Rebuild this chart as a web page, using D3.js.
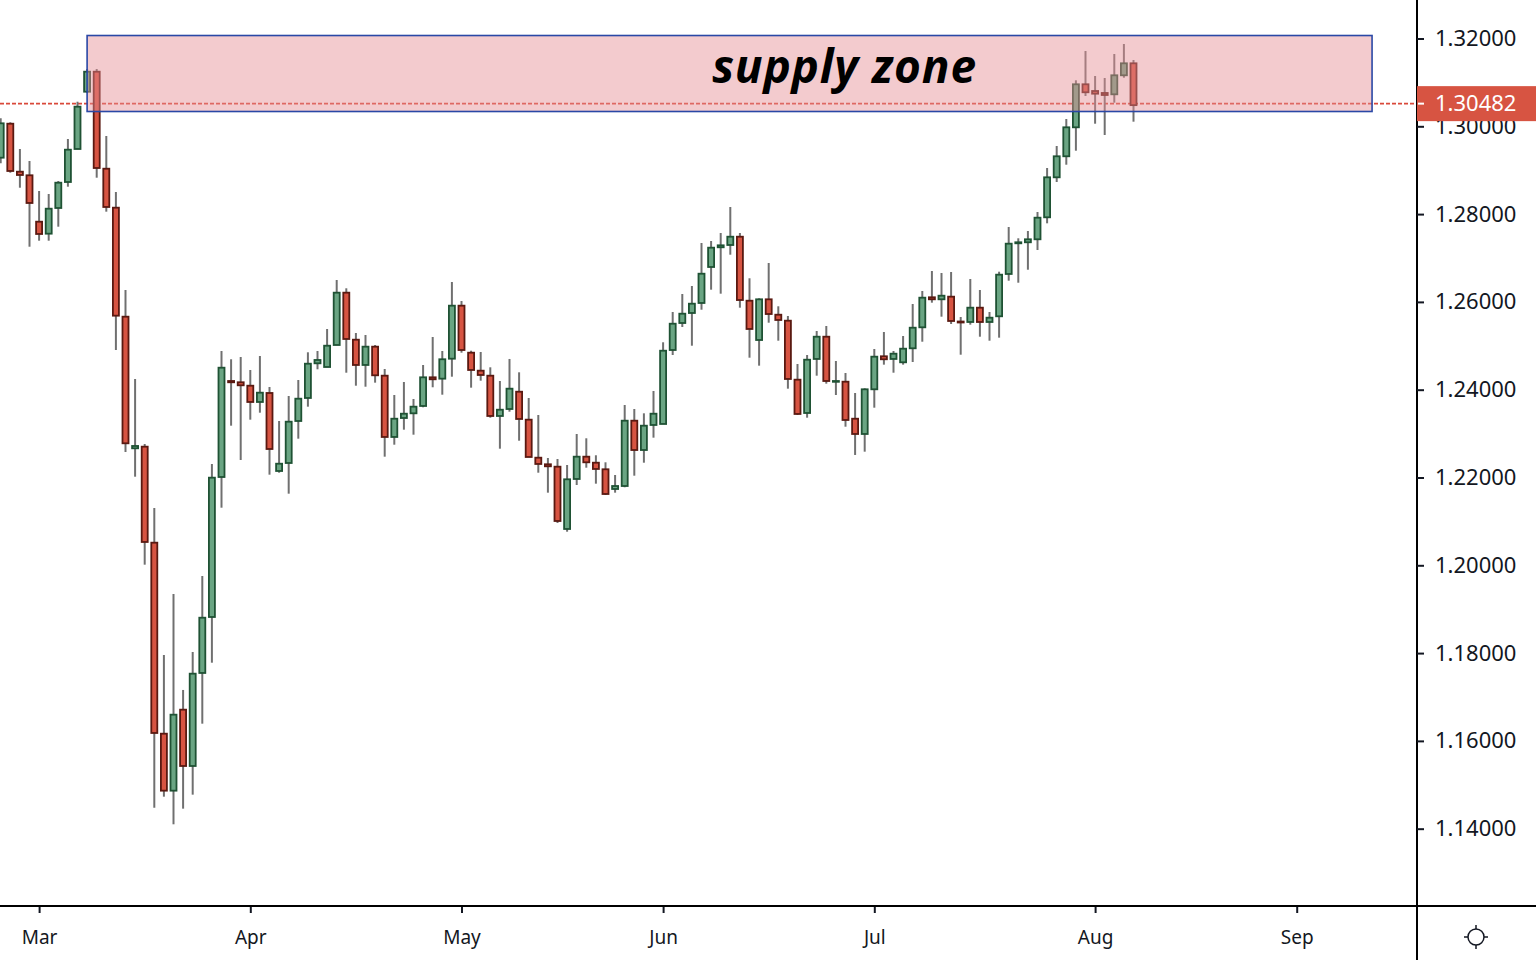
<!DOCTYPE html>
<html>
<head>
<meta charset="utf-8">
<script src="https://cdn.jsdelivr.net/npm/d3@7"></script>
<style>
  html, body { margin: 0; padding: 0; background: #fff; }
  svg { display: block; }
</style>
</head>
<body>
<div id="chart"></div>
<script>
// daily candles, one per weekday starting at firstDay
const firstDay = "2020-02-25";

const opens = [1.29285,1.30059,1.28966,1.28884,1.27827,1.27554,1.28139,1.28731,1.29483,1.30788,
  1.31244,1.29034,1.28146,1.25663,1.22665,1.22702,1.20515,1.16164,1.14866,1.16711,
  1.15428,1.17547,1.18822,1.22011,1.24198,1.24169,1.24091,1.23720,1.23925,1.22148,
  1.22330,1.23287,1.23811,1.24601,1.24517,1.25018,1.26210,1.25139,1.24563,1.24980,
  1.24319,1.22923,1.23355,1.23462,1.23629,1.24282,1.24251,1.24706,1.25914,1.24843,
  1.24433,1.24319,1.23401,1.23560,1.23954,1.23317,1.22451,1.22301,1.22246,1.20827,
  1.21966,1.22474,1.22337,1.22187,1.21738,1.21806,1.23294,1.22626,1.23196,1.23219,
  1.24904,1.25519,1.25747,1.25975,1.26795,1.27244,1.27296,1.27485,1.26027,1.25132,
  1.26059,1.25708,1.25572,1.24228,1.23469,1.24700,1.25207,1.24182,1.24182,1.23339,
  1.22991,1.24009,1.24761,1.24700,1.24624,1.24943,1.25421,1.26105,1.26059,1.26119,
  1.25553,1.25542,1.25868,1.25542,1.25672,1.26636,1.27335,1.27358,1.27426,1.27927,
  1.28838,1.29317,1.29977,1.30957,1.30804,1.30759,1.30729,1.31162,1.31435];

const highs = [1.30182,1.30091,1.29483,1.29210,1.28526,1.28458,1.28754,1.29711,1.30560,1.31305,
  1.31305,1.29779,1.28503,1.26271,1.24244,1.22763,1.21305,1.17957,1.19346,1.17160,
  1.18025,1.19756,1.22308,1.24882,1.24693,1.24745,1.24449,1.24768,1.24062,1.23287,
  1.23857,1.24221,1.24852,1.24882,1.25383,1.26499,1.26310,1.25292,1.25246,1.25018,
  1.24472,1.23879,1.24175,1.23788,1.24563,1.25201,1.24882,1.26453,1.26021,1.24888,
  1.24859,1.24510,1.24198,1.24700,1.24396,1.23811,1.23424,1.22444,1.22421,1.22285,
  1.22991,1.22893,1.22506,1.22346,1.22057,1.23652,1.23560,1.23462,1.23970,1.25080,
  1.25770,1.26180,1.26362,1.27342,1.27387,1.27570,1.28162,1.27570,1.26538,1.26082,
  1.26886,1.25900,1.25679,1.24585,1.24790,1.25337,1.25451,1.24654,1.24380,1.23925,
  1.24032,1.24927,1.25314,1.24882,1.25223,1.25952,1.26248,1.26704,1.26658,1.26681,
  1.25656,1.26522,1.26271,1.25770,1.26688,1.27706,1.27449,1.27615,1.28048,1.29050,
  1.29551,1.30166,1.31048,1.31715,1.31146,1.31100,1.31647,1.31875,1.31510];

const lows = [1.29157,1.28943,1.28601,1.27257,1.27394,1.27394,1.27713,1.28624,1.29483,1.30759,
  1.28829,1.28055,1.24904,1.22581,1.22018,1.20014,1.14478,1.14729,1.14100,1.14456,
  1.14775,1.16392,1.17781,1.21312,1.23180,1.22399,1.23317,1.23476,1.22064,1.22109,
  1.21631,1.22884,1.23613,1.24465,1.24517,1.25018,1.24387,1.24091,1.24068,1.24160,
  1.22474,1.22747,1.23089,1.22975,1.23599,1.24055,1.23886,1.24296,1.24843,1.24046,
  1.24205,1.23362,1.22656,1.23499,1.22838,1.22467,1.22109,1.21654,1.20964,1.20765,
  1.21829,1.22223,1.21859,1.21601,1.21654,1.21777,1.22041,1.22337,1.22907,1.23219,
  1.24790,1.25428,1.25002,1.25822,1.26278,1.26187,1.27075,1.25868,1.24729,1.24547,
  1.25526,1.25116,1.24023,1.23424,1.23362,1.24319,1.24137,1.23879,1.23157,1.22513,
  1.22588,1.23590,1.24570,1.24387,1.24570,1.24631,1.25093,1.25982,1.25663,1.25497,
  1.24797,1.25481,1.25207,1.25116,1.25185,1.26483,1.26437,1.26733,1.27182,1.27790,
  1.28731,1.29125,1.29444,1.30690,1.30059,1.29802,1.30538,1.31107,1.30105];

const closes = [1.30068,1.28982,1.28891,1.28253,1.27547,1.28123,1.28715,1.29467,1.30447,1.31244,
  1.29050,1.28162,1.25686,1.22779,1.22718,1.20531,1.16180,1.14866,1.16597,1.15428,
  1.17531,1.18806,1.21996,1.24501,1.24169,1.24100,1.23720,1.23932,1.22649,1.22314,
  1.23271,1.23795,1.24592,1.24677,1.25002,1.26210,1.25155,1.24563,1.24980,1.24328,
  1.22923,1.23339,1.23453,1.23613,1.24282,1.24237,1.24693,1.25914,1.24904,1.24449,
  1.24335,1.23401,1.23544,1.24023,1.23333,1.22467,1.22308,1.22255,1.21009,1.21959,
  1.22474,1.22346,1.22194,1.21624,1.21806,1.23294,1.22626,1.23180,1.23453,1.24888,
  1.25503,1.25731,1.25959,1.26642,1.27235,1.27289,1.27485,1.26043,1.25383,1.26059,
  1.25724,1.25588,1.24244,1.23447,1.24683,1.25207,1.24198,1.24198,1.23310,1.22991,
  1.24009,1.24752,1.24693,1.24820,1.24934,1.25412,1.26096,1.26059,1.26141,1.25565,
  1.25531,1.25868,1.25542,1.25640,1.26620,1.27326,1.27358,1.27426,1.27918,1.28838,
  1.29317,1.29977,1.30957,1.30775,1.30743,1.30713,1.31162,1.31435,1.30482];

const priceTicks = [1.14, 1.16, 1.18, 1.20, 1.22, 1.24, 1.26, 1.28, 1.30, 1.32];
const monthTicks = ["Mar", "Apr", "May", "Jun", "Jul", "Aug", "Sep"];

// supply zone: from bar index to bar index, price bottom/top
const zoneBars = [9, 142.85];
const zonePrices = [1.30337, 1.32068];
const zoneLabel = "supply zone";
const lastPrice = 1.30482;

const W = 1536, H = 960;
const plotW = 1416, plotH = 907;

const parse = d3.timeParse("%Y-%m-%d");
const fmtMonth = d3.timeFormat("%b");
const start = parse(firstDay);
const days = d3.timeDay.range(start, d3.timeDay.offset(start, 240))
  .filter(d => d.getDay() !== 0 && d.getDay() !== 6);

const candles = opens.map((o, i) => ({ i: i, o: o, h: highs[i], l: lows[i], c: closes[i] }));

const x = d3.scaleLinear().domain([-0.073, 147.427]).range([0, plotW]);
const y = d3.scaleLinear().domain([1.12216, 1.32877]).range([plotH, 0]);

const svg = d3.select("#chart").append("svg")
  .attr("width", W).attr("height", H)
  .style("font-family", "'Noto Sans', sans-serif");

const plot = svg.append("g").attr("class", "plot");

// last price dashed line
plot.append("line")
  .attr("x1", 0).attr("x2", plotW)
  .attr("y1", y(lastPrice) - 1.5).attr("y2", y(lastPrice) - 1.5)
  .attr("stroke", "#d9493a").attr("stroke-width", 1.8)
  .attr("stroke-dasharray", "4 2");

// wicks
plot.append("g").selectAll("line").data(candles).join("line")
  .attr("x1", d => x(d.i)).attr("x2", d => x(d.i))
  .attr("y1", d => y(d.h)).attr("y2", d => y(d.l))
  .attr("stroke", "#707070").attr("stroke-width", 2);

// bodies
const bodyW = 6;
plot.append("g").selectAll("rect").data(candles).join("rect")
  .attr("x", d => x(d.i) - bodyW / 2)
  .attr("y", d => y(Math.max(d.o, d.c)))
  .attr("width", bodyW)
  .attr("height", d => Math.max(Math.abs(y(d.o) - y(d.c)), 0.8))
  .attr("fill", d => d.c >= d.o ? "#6aa583" : "#d75442")
  .attr("stroke", d => d.c >= d.o ? "#1f5234" : "#5a1911")
  .attr("stroke-width", 1.8);

// supply zone
plot.append("rect")
  .attr("x", x(zoneBars[0]))
  .attr("y", y(zonePrices[1]))
  .attr("width", x(zoneBars[1]) - x(zoneBars[0]))
  .attr("height", y(zonePrices[0]) - y(zonePrices[1]))
  .attr("fill", "#e58e94").attr("fill-opacity", 0.46)
  .attr("stroke", "#2a48a6").attr("stroke-width", 1.6);

plot.append("text")
  .attr("x", 844.5).attr("y", 83)
  .attr("text-anchor", "middle")
  .attr("font-size", 46).attr("font-weight", "bold").attr("font-style", "italic")
  .attr("letter-spacing", 0.8)
  .attr("fill", "#000")
  .text(zoneLabel);

// frame lines
svg.append("line").attr("x1", 0).attr("x2", W).attr("y1", plotH - 1).attr("y2", plotH - 1)
  .attr("stroke", "#000").attr("stroke-width", 2);
svg.append("line").attr("x1", plotW + 1).attr("x2", plotW + 1).attr("y1", 0).attr("y2", H)
  .attr("stroke", "#000").attr("stroke-width", 2);

// price axis
const yAxis = d3.axisRight(y)
  .tickValues(priceTicks)
  .tickFormat(d3.format(".5f"))
  .tickSize(7)
  .tickPadding(11);

svg.append("g")
  .attr("transform", "translate(" + (plotW + 1) + ",0)")
  .call(yAxis)
  .call(g => g.select(".domain").remove())
  .call(g => g.selectAll(".tick line").attr("stroke", "#131722").attr("stroke-width", 2))
  .call(g => g.selectAll(".tick text").attr("fill", "#131722")
    .attr("font-size", 22).attr("font-family", "'Noto Sans', sans-serif"));

// time axis: first bar of each month
const monthStarts = [];
days.forEach((d, i) => {
  if (i > 0 && d.getMonth() !== days[i - 1].getMonth() && monthTicks.includes(fmtMonth(d))) {
    monthStarts.push(i);
  }
});

const xAxis = d3.axisBottom(x)
  .tickValues(monthStarts)
  .tickFormat(i => fmtMonth(days[i]))
  .tickSize(6)
  .tickPadding(18);

svg.append("g")
  .attr("transform", "translate(0," + plotH + ")")
  .call(xAxis)
  .call(g => g.select(".domain").remove())
  .call(g => g.selectAll(".tick line").attr("stroke", "#131722").attr("stroke-width", 2))
  .call(g => g.selectAll(".tick text").attr("fill", "#131722")
    .attr("font-size", 19).attr("font-family", "'Noto Sans', sans-serif"));

// last price label
const lp = svg.append("g").attr("transform", "translate(" + (plotW + 1) + "," + (y(lastPrice) - 1.5) + ")");
lp.append("rect").attr("x", 0).attr("y", -17.5).attr("width", W - plotW).attr("height", 35)
  .attr("fill", "#d75442");
lp.append("line").attr("x1", 1).attr("x2", 7).attr("y1", 0).attr("y2", 0)
  .attr("stroke", "#fff").attr("stroke-width", 2);
lp.append("text").attr("x", 18).attr("y", 0).attr("dy", "0.35em")
  .attr("fill", "#fff").attr("font-size", 22)
  .text(d3.format(".5f")(lastPrice));

// settings icon in the corner
const ic = svg.append("g").attr("transform", "translate(1476,937)")
  .attr("stroke", "#131722").attr("stroke-width", 1.5).attr("fill", "none");
ic.append("circle").attr("r", 8);
[[0, -12, 0, -8], [0, 8, 0, 12], [-12, 0, -8, 0], [8, 0, 12, 0]].forEach(s => {
  ic.append("line").attr("x1", s[0]).attr("y1", s[1]).attr("x2", s[2]).attr("y2", s[3]);
});
</script>
</body>
</html>
